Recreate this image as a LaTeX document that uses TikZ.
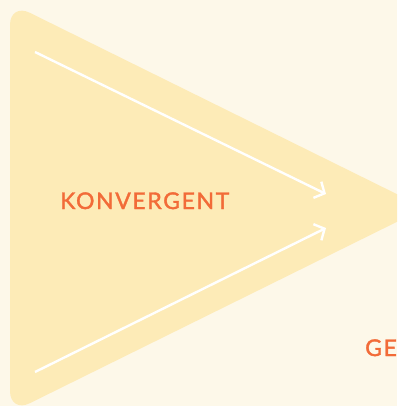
\documentclass[tikz,border=0pt]{standalone}
\usepackage{fontspec}
\setmainfont{Lato}
\newfontfamily\labfont[LetterSpace=7,FakeBold=1.6]{Lato}
\usetikzlibrary{arrows.meta}
\definecolor{bg}{HTML}{FDF8E9}
\definecolor{tri}{HTML}{FDEBB7}
\definecolor{org}{HTML}{F26B38}
\tikzset{
  arr/.style={draw=white, line width=2.4pt, -{Straight Barb[length=8pt,width=18pt,line width=2.4pt]}},
  lbl/.style={text=org, font=\labfont\fontsize{23}{28}\selectfont, inner sep=0pt, anchor=base west}
}
\begin{document}
\begin{tikzpicture}[x=1pt,y=-1pt]
\useasboundingbox (0,0) rectangle (397,406);
\clip (0,0) rectangle (397,406);
\fill[bg] (0,0) rectangle (397,406);
\fill[tri, rounded corners=22pt] (10,3) -- (425,208) -- (10,413) -- cycle;
\coordinate (a1s) at (35,52);
\coordinate (a1e) at (326,194);
\coordinate (a2s) at (35,372);
\coordinate (a2e) at (326,228);
\draw[arr] (a1s) -- (a1e);
\draw[arr] (a2s) -- (a2e);
\node[lbl] (k) at (60,209) {KONVERGENT};
\node[lbl] (g) at (365,356) {GE};
\end{tikzpicture}
\end{document}
